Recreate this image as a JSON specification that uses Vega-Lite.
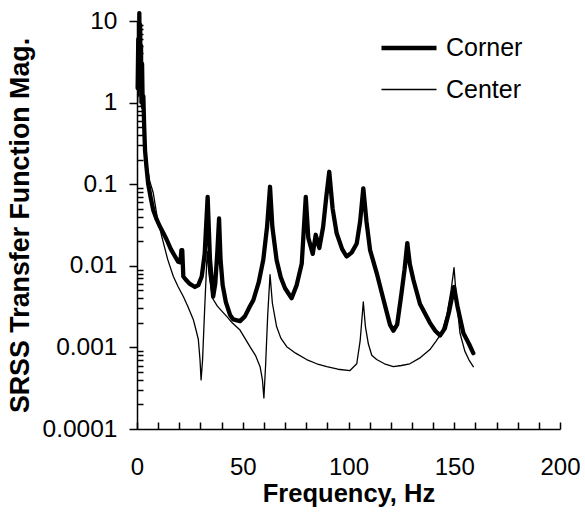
{
 "$schema": "https://vega.github.io/schema/vega-lite/v6.json",
 "width": 423, "height": 408,
 "autosize": {"type": "none"},
 "padding": {"left": 137, "top": 21, "right": 25, "bottom": 90},
 "background": "white",
 "config": {"view": {"stroke": null}, "font": "Liberation Sans",
  "axis": {"domainColor": "black", "tickColor": "black", "labelColor": "black", "titleColor": "black", "grid": false, "labelFont": "Liberation Sans", "titleFont": "Liberation Sans", "domainWidth": 1.5, "tickWidth": 1.5},
  "legend": {"labelFont": "Liberation Sans", "labelColor": "black"}},
 "data": {"values": [
  {"f":0.3,"v":1.5,"s":"Corner"},{"f":0.6,"v":6,"s":"Corner"},{"f":0.9,"v":2,"s":"Corner"},{"f":1.1,"v":12.5,"s":"Corner"},{"f":1.3,"v":3,"s":"Corner"},{"f":1.5,"v":9,"s":"Corner"},{"f":1.7,"v":1.5,"s":"Corner"},{"f":1.9,"v":5,"s":"Corner"},{"f":2.1,"v":1.0,"s":"Corner"},{"f":2.4,"v":3,"s":"Corner"},{"f":2.7,"v":0.9,"s":"Corner"},{"f":3.0,"v":1.2,"s":"Corner"},{"f":3.4,"v":0.5,"s":"Corner"},{"f":3.8,"v":0.26,"s":"Corner"},{"f":4.5,"v":0.16,"s":"Corner"},{"f":5.3,"v":0.10,"s":"Corner"},{"f":6.5,"v":0.068,"s":"Corner"},{"f":7.7,"v":0.048,"s":"Corner"},{"f":9.3,"v":0.037,"s":"Corner"},{"f":10.9,"v":0.030,"s":"Corner"},{"f":12.5,"v":0.025,"s":"Corner"},{"f":14,"v":0.021,"s":"Corner"},{"f":16,"v":0.016,"s":"Corner"},{"f":18,"v":0.013,"s":"Corner"},{"f":19.5,"v":0.0112,"s":"Corner"},{"f":20.5,"v":0.011,"s":"Corner"},{"f":21.0,"v":0.0156,"s":"Corner"},{"f":21.4,"v":0.0156,"s":"Corner"},{"f":21.9,"v":0.0074,"s":"Corner"},{"f":23,"v":0.0068,"s":"Corner"},{"f":25,"v":0.006,"s":"Corner"},{"f":27.4,"v":0.0055,"s":"Corner"},{"f":29,"v":0.0058,"s":"Corner"},{"f":30.6,"v":0.0074,"s":"Corner"},{"f":32,"v":0.014,"s":"Corner"},{"f":33.4,"v":0.070,"s":"Corner"},{"f":34.5,"v":0.012,"s":"Corner"},{"f":36,"v":0.0042,"s":"Corner"},{"f":37,"v":0.006,"s":"Corner"},{"f":38.0,"v":0.015,"s":"Corner"},{"f":38.8,"v":0.038,"s":"Corner"},{"f":39.5,"v":0.012,"s":"Corner"},{"f":40.5,"v":0.0058,"s":"Corner"},{"f":42,"v":0.0036,"s":"Corner"},{"f":44,"v":0.0025,"s":"Corner"},{"f":45.5,"v":0.0022,"s":"Corner"},{"f":48.7,"v":0.0021,"s":"Corner"},{"f":51,"v":0.0024,"s":"Corner"},{"f":53.4,"v":0.0032,"s":"Corner"},{"f":55,"v":0.0038,"s":"Corner"},{"f":57.5,"v":0.0062,"s":"Corner"},{"f":59.7,"v":0.0118,"s":"Corner"},{"f":61.5,"v":0.03,"s":"Corner"},{"f":62.9,"v":0.093,"s":"Corner"},{"f":64,"v":0.03,"s":"Corner"},{"f":66,"v":0.0118,"s":"Corner"},{"f":68,"v":0.0072,"s":"Corner"},{"f":70,"v":0.0053,"s":"Corner"},{"f":73.1,"v":0.0040,"s":"Corner"},{"f":75.5,"v":0.0058,"s":"Corner"},{"f":77.9,"v":0.0107,"s":"Corner"},{"f":79.8,"v":0.070,"s":"Corner"},{"f":81,"v":0.022,"s":"Corner"},{"f":83.1,"v":0.014,"s":"Corner"},{"f":84.5,"v":0.024,"s":"Corner"},{"f":86.2,"v":0.0165,"s":"Corner"},{"f":88,"v":0.03,"s":"Corner"},{"f":89.5,"v":0.07,"s":"Corner"},{"f":90.9,"v":0.142,"s":"Corner"},{"f":92.5,"v":0.05,"s":"Corner"},{"f":94.4,"v":0.025,"s":"Corner"},{"f":97,"v":0.016,"s":"Corner"},{"f":99.1,"v":0.013,"s":"Corner"},{"f":101.5,"v":0.0145,"s":"Corner"},{"f":103.9,"v":0.0188,"s":"Corner"},{"f":105.5,"v":0.035,"s":"Corner"},{"f":107,"v":0.089,"s":"Corner"},{"f":108.5,"v":0.035,"s":"Corner"},{"f":110.2,"v":0.0156,"s":"Corner"},{"f":113.3,"v":0.0082,"s":"Corner"},{"f":116.5,"v":0.0039,"s":"Corner"},{"f":119.6,"v":0.0019,"s":"Corner"},{"f":121.2,"v":0.0016,"s":"Corner"},{"f":123,"v":0.0019,"s":"Corner"},{"f":125,"v":0.0045,"s":"Corner"},{"f":126.5,"v":0.009,"s":"Corner"},{"f":127.8,"v":0.019,"s":"Corner"},{"f":129,"v":0.0105,"s":"Corner"},{"f":130.7,"v":0.0067,"s":"Corner"},{"f":133.8,"v":0.0034,"s":"Corner"},{"f":138.5,"v":0.0020,"s":"Corner"},{"f":141,"v":0.0016,"s":"Corner"},{"f":143.3,"v":0.0014,"s":"Corner"},{"f":145.5,"v":0.0017,"s":"Corner"},{"f":147.5,"v":0.0027,"s":"Corner"},{"f":149.9,"v":0.0055,"s":"Corner"},{"f":151.5,"v":0.0032,"s":"Corner"},{"f":154.3,"v":0.0015,"s":"Corner"},{"f":157,"v":0.0011,"s":"Corner"},{"f":159,"v":0.00085,"s":"Corner"},
  {"f":0.3,"v":1,"s":"Center"},{"f":0.6,"v":3,"s":"Center"},{"f":0.9,"v":1.2,"s":"Center"},{"f":1.1,"v":8,"s":"Center"},{"f":1.3,"v":1.5,"s":"Center"},{"f":1.5,"v":4,"s":"Center"},{"f":1.7,"v":1.0,"s":"Center"},{"f":2.0,"v":2,"s":"Center"},{"f":2.3,"v":0.85,"s":"Center"},{"f":2.7,"v":1.0,"s":"Center"},{"f":3.1,"v":0.6,"s":"Center"},{"f":3.6,"v":0.35,"s":"Center"},{"f":4.6,"v":0.18,"s":"Center"},{"f":6,"v":0.11,"s":"Center"},{"f":7.7,"v":0.078,"s":"Center"},{"f":9.5,"v":0.04,"s":"Center"},{"f":11.7,"v":0.023,"s":"Center"},{"f":14.5,"v":0.012,"s":"Center"},{"f":17.2,"v":0.0074,"s":"Center"},{"f":19.5,"v":0.0055,"s":"Center"},{"f":21.9,"v":0.0042,"s":"Center"},{"f":24,"v":0.0032,"s":"Center"},{"f":26.6,"v":0.0022,"s":"Center"},{"f":28,"v":0.0016,"s":"Center"},{"f":29,"v":0.00125,"s":"Center"},{"f":29.8,"v":0.0007,"s":"Center"},{"f":30.3,"v":0.0004,"s":"Center"},{"f":31,"v":0.0007,"s":"Center"},{"f":32,"v":0.003,"s":"Center"},{"f":33.2,"v":0.015,"s":"Center"},{"f":34,"v":0.008,"s":"Center"},{"f":35.7,"v":0.004,"s":"Center"},{"f":38,"v":0.0032,"s":"Center"},{"f":40,"v":0.0028,"s":"Center"},{"f":42.4,"v":0.0024,"s":"Center"},{"f":45,"v":0.0020,"s":"Center"},{"f":48.7,"v":0.00163,"s":"Center"},{"f":51,"v":0.0013,"s":"Center"},{"f":53.4,"v":0.00102,"s":"Center"},{"f":56,"v":0.0008,"s":"Center"},{"f":58.2,"v":0.00058,"s":"Center"},{"f":59.3,"v":0.0004,"s":"Center"},{"f":60,"v":0.00024,"s":"Center"},{"f":60.8,"v":0.0006,"s":"Center"},{"f":61.8,"v":0.0025,"s":"Center"},{"f":62.9,"v":0.0078,"s":"Center"},{"f":64,"v":0.0035,"s":"Center"},{"f":66,"v":0.0018,"s":"Center"},{"f":68,"v":0.0013,"s":"Center"},{"f":70.8,"v":0.00102,"s":"Center"},{"f":75,"v":0.00085,"s":"Center"},{"f":80.2,"v":0.00071,"s":"Center"},{"f":85,"v":0.00063,"s":"Center"},{"f":89.7,"v":0.00058,"s":"Center"},{"f":95,"v":0.00054,"s":"Center"},{"f":100.7,"v":0.00052,"s":"Center"},{"f":103.9,"v":0.00063,"s":"Center"},{"f":105.5,"v":0.0012,"s":"Center"},{"f":107,"v":0.0036,"s":"Center"},{"f":108,"v":0.0018,"s":"Center"},{"f":109.4,"v":0.0011,"s":"Center"},{"f":111,"v":0.0008,"s":"Center"},{"f":113.3,"v":0.00071,"s":"Center"},{"f":117,"v":0.00063,"s":"Center"},{"f":121.2,"v":0.00058,"s":"Center"},{"f":125,"v":0.0006,"s":"Center"},{"f":129,"v":0.00063,"s":"Center"},{"f":134,"v":0.00075,"s":"Center"},{"f":138.5,"v":0.00094,"s":"Center"},{"f":141.5,"v":0.0012,"s":"Center"},{"f":144,"v":0.0015,"s":"Center"},{"f":146.5,"v":0.0025,"s":"Center"},{"f":148.5,"v":0.005,"s":"Center"},{"f":149.9,"v":0.0095,"s":"Center"},{"f":151,"v":0.004,"s":"Center"},{"f":152.7,"v":0.0015,"s":"Center"},{"f":155,"v":0.0009,"s":"Center"},{"f":157,"v":0.0007,"s":"Center"},{"f":159,"v":0.00058,"s":"Center"}
 ]},
 "mark": {"type": "line", "color": "black", "strokeJoin": "round", "strokeCap": "round"},
 "encoding": {
  "x": {"field": "f", "type": "quantitative", "scale": {"domain": [0, 200], "nice": false, "zero": false},
   "axis": {"values": [0,10,20,30,40,50,60,70,80,90,100,110,120,130,140,150,160,170,180,190,200], "labelExpr": "datum.value % 50 === 0 ? datum.label : ''", "tickSize": -7, "labelPadding": 33, "labelFontSize": 24, "labelFlush": false, "labelOverlap": false, "title": "Frequency, Hz", "titleFontSize": 25.5, "titleFontWeight": "bold", "titlePadding": 2}},
  "y": {"field": "v", "type": "quantitative", "scale": {"type": "log", "domain": [0.0001, 10], "nice": false},
   "axis": {"values": [0.0001,0.0002,0.0003,0.0004,0.0005,0.0006,0.0007,0.0008,0.0009,0.001,0.002,0.003,0.004,0.005,0.006,0.007,0.008,0.009,0.01,0.02,0.03,0.04,0.05,0.06,0.07,0.08,0.09,0.1,0.2,0.3,0.4,0.5,0.6,0.7,0.8,0.9,1,2,3,4,5,6,7,8,9,10],
    "labelExpr": "abs(log(datum.value)/LN10 - round(log(datum.value)/LN10)) < 0.001 ? format(datum.value, '~g') : ''",
    "tickSize": {"condition": {"test": "abs(log(datum.value)/LN10 - round(log(datum.value)/LN10)) < 0.001", "value": 8}, "value": -6},
    "labelPadding": 12, "labelFontSize": 24.5, "labelOverlap": false, "title": "SRSS Transfer Function Mag.", "titleFontSize": 26.8, "titleFontWeight": "bold", "titlePadding": 8}},
  "strokeWidth": {"field": "s", "type": "nominal", "scale": {"domain": ["Corner", "Center"], "range": [4.3, 1.3]},
   "legend": {"orient": "none", "legendX": 242, "legendY": -3, "title": null, "labelFontSize": 25, "symbolSize": 3025, "symbolType": "stroke", "symbolStrokeColor": "black", "labelOffset": 7, "padding": 0, "rowPadding": -10}}
 }
}
